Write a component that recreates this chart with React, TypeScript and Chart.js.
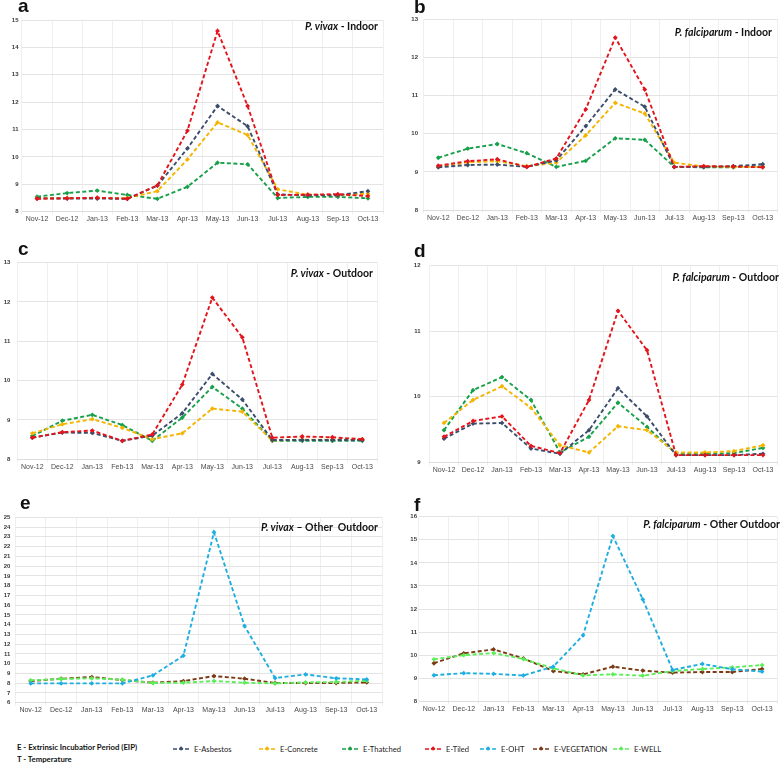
import React, { useEffect, useRef } from 'react';
import { Chart, registerables } from 'chart.js';

Chart.register(...registerables);

// ---- Data ----
const months = ['Nov-12', 'Dec-12', 'Jan-13', 'Feb-13', 'Mar-13', 'Apr-13', 'May-13', 'Jun-13', 'Jul-13', 'Aug-13', 'Sep-13', 'Oct-13'];

const aAsbestos = [8.49, 8.48, 8.48, 8.47, 8.95, 10.31, 11.86, 11.12, 8.63, 8.6, 8.6, 8.75];
const aConcrete = [8.5, 8.5, 8.5, 8.5, 8.75, 9.91, 11.26, 10.8, 8.82, 8.62, 8.6, 8.66];
const aThatched = [8.55, 8.68, 8.77, 8.61, 8.47, 8.91, 9.79, 9.73, 8.5, 8.54, 8.54, 8.49];
const aTiled = [8.47, 8.49, 8.51, 8.47, 8.96, 10.96, 14.6, 11.86, 8.61, 8.62, 8.64, 8.57];

const bAsbestos = [9.12, 9.18, 9.19, 9.13, 9.3, 10.2, 11.16, 10.71, 9.13, 9.13, 9.15, 9.2];
const bConcrete = [9.14, 9.25, 9.28, 9.15, 9.24, 9.96, 10.81, 10.53, 9.24, 9.14, 9.13, 9.13];
const bThatched = [9.37, 9.61, 9.73, 9.49, 9.13, 9.29, 9.88, 9.84, 9.13, 9.12, 9.12, 9.14];
const bTiled = [9.16, 9.28, 9.33, 9.13, 9.35, 10.64, 12.52, 11.16, 9.13, 9.15, 9.14, 9.12];

const cAsbestos = [8.55, 8.68, 8.67, 8.47, 8.6, 9.17, 10.17, 9.52, 8.49, 8.49, 8.49, 8.49];
const cConcrete = [8.66, 8.89, 9.02, 8.8, 8.51, 8.66, 9.29, 9.21, 8.48, 8.5, 8.5, 8.5];
const cThatched = [8.59, 8.98, 9.13, 8.87, 8.47, 9.06, 9.84, 9.29, 8.47, 8.47, 8.47, 8.47];
const cTiled = [8.55, 8.69, 8.73, 8.47, 8.63, 9.9, 12.11, 11.1, 8.55, 8.58, 8.56, 8.51];

const dAsbestos = [9.36, 9.59, 9.6, 9.21, 9.13, 9.49, 10.13, 9.7, 9.11, 9.11, 9.11, 9.13];
const dConcrete = [9.6, 9.95, 10.16, 9.83, 9.26, 9.15, 9.55, 9.49, 9.15, 9.15, 9.17, 9.26];
const dThatched = [9.49, 10.1, 10.3, 9.95, 9.15, 9.39, 9.91, 9.54, 9.13, 9.13, 9.14, 9.22];
const dTiled = [9.39, 9.63, 9.7, 9.25, 9.14, 9.95, 11.31, 10.71, 9.11, 9.11, 9.11, 9.11];

const eOHT = [7.98, 7.98, 7.98, 7.98, 8.8, 10.82, 23.46, 13.86, 8.53, 8.9, 8.5, 8.39];
const eVegetation = [8.22, 8.46, 8.63, 8.32, 8.05, 8.22, 8.73, 8.46, 8.02, 8.02, 8.02, 8.08];
const eWell = [8.29, 8.43, 8.5, 8.36, 8.02, 8.05, 8.22, 8.05, 7.98, 8.08, 8.12, 8.25];

const fOHT = [9.13, 9.22, 9.19, 9.12, 9.5, 10.86, 15.16, 12.42, 9.36, 9.62, 9.39, 9.29];
const fVegetation = [9.65, 10.08, 10.25, 9.86, 9.31, 9.17, 9.5, 9.33, 9.24, 9.27, 9.27, 9.4];
const fWell = [9.82, 10.0, 10.09, 9.83, 9.43, 9.12, 9.17, 9.11, 9.31, 9.4, 9.47, 9.57];

const seriesNames = ['E-Asbestos', 'E-Concrete', 'E-Thatched', 'E-Tiled', 'E-OHT', 'E-VEGETATION', 'E-WELL'];

// ---- Styles ----
const COLORS: Record<string, string> = {
  'E-Asbestos': '#3c4d6c',
  'E-Concrete': '#f4b500',
  'E-Thatched': '#17a04a',
  'E-Tiled': '#e3141b',
  'E-OHT': '#1eaedf',
  'E-VEGETATION': '#7b3a14',
  'E-WELL': '#5cee58',
};
const ORDER: Record<string, number> = {
  'E-Tiled': 0, 'E-Asbestos': 1, 'E-Concrete': 2, 'E-Thatched': 3,
  'E-OHT': 0, 'E-WELL': 1, 'E-VEGETATION': 2,
};

type PanelDef = {
  letter: string;
  letterPos: [number, number];
  titleItalic: string;
  titleRest: string;
  titleRight: number;
  titleCenterY: number;
  plot: { left: number; top: number; right: number; bottom: number };
  canvasLeft: number;
  yMin: number;
  yMax: number;
  yPad: number;
  series: { name: string; data: number[] }[];
};

const panels: PanelDef[] = [
  {
    letter: 'a', letterPos: [18, 12], titleItalic: 'P. vivax', titleRest: ' - Indoor', titleRight: 378, titleCenterY: 27,
    plot: { left: 22, top: 20, right: 383, bottom: 211.7 }, canvasLeft: 0, yMin: 8, yMax: 15, yPad: 3.5,
    series: [
      { name: 'E-Asbestos', data: aAsbestos }, { name: 'E-Concrete', data: aConcrete },
      { name: 'E-Thatched', data: aThatched }, { name: 'E-Tiled', data: aTiled },
    ],
  },
  {
    letter: 'b', letterPos: [414, 13], titleItalic: 'P. falciparum', titleRest: ' - Indoor', titleRight: 772, titleCenterY: 33,
    plot: { left: 423.5, top: 19.3, right: 777.5, bottom: 210 }, canvasLeft: 398, yMin: 8, yMax: 13, yPad: 5.5,
    series: [
      { name: 'E-Asbestos', data: bAsbestos }, { name: 'E-Concrete', data: bConcrete },
      { name: 'E-Thatched', data: bThatched }, { name: 'E-Tiled', data: bTiled },
    ],
  },
  {
    letter: 'c', letterPos: [18, 255], titleItalic: 'P. vivax', titleRest: ' - Outdoor', titleRight: 373, titleCenterY: 274,
    plot: { left: 17.3, top: 262.3, right: 377.3, bottom: 459.3 }, canvasLeft: 0, yMin: 8, yMax: 13, yPad: 7,
    series: [
      { name: 'E-Asbestos', data: cAsbestos }, { name: 'E-Concrete', data: cConcrete },
      { name: 'E-Thatched', data: cThatched }, { name: 'E-Tiled', data: cTiled },
    ],
  },
  {
    letter: 'd', letterPos: [414, 257], titleItalic: 'P. falciparum', titleRest: ' - Outdoor', titleRight: 779, titleCenterY: 278,
    plot: { left: 429.5, top: 263.3, right: 777.5, bottom: 462.3 }, canvasLeft: 398, yMin: 9, yMax: 12, yPad: 9,
    series: [
      { name: 'E-Asbestos', data: dAsbestos }, { name: 'E-Concrete', data: dConcrete },
      { name: 'E-Thatched', data: dThatched }, { name: 'E-Tiled', data: dTiled },
    ],
  },
  {
    letter: 'e', letterPos: [20, 509], titleItalic: 'P. vivax', titleRest: ' \u2013 Other  Outdoor', titleRight: 378, titleCenterY: 528,
    plot: { left: 15.4, top: 517.3, right: 382, bottom: 702.7 }, canvasLeft: 0, yMin: 6, yMax: 25, yPad: 5,
    series: [
      { name: 'E-OHT', data: eOHT }, { name: 'E-VEGETATION', data: eVegetation }, { name: 'E-WELL', data: eWell },
    ],
  },
  {
    letter: 'f', letterPos: [414, 511], titleItalic: 'P. falciparum', titleRest: ' - Other Outdoor', titleRight: 780, titleCenterY: 525,
    plot: { left: 419, top: 516.7, right: 777, bottom: 701.3 }, canvasLeft: 398, yMin: 8, yMax: 16, yPad: 2,
    series: [
      { name: 'E-OHT', data: fOHT }, { name: 'E-VEGETATION', data: fVegetation }, { name: 'E-WELL', data: fWell },
    ],
  },
];

const TICK_FONT = 'Liberation Sans, Arial, sans-serif';

function Panel({ p }: { p: PanelDef }) {
  const ref = useRef<HTMLCanvasElement | null>(null);
  const canvasTop = Math.round(p.plot.top - 10);
  const canvasRight = Math.min(784, Math.round(p.plot.right + 5));
  const canvasBottom = Math.round(p.plot.bottom + 18);
  const w = canvasRight - p.canvasLeft;
  const h = canvasBottom - canvasTop;

  useEffect(() => {
    if (!ref.current) return;
    const yw = p.plot.left - p.canvasLeft;
    const xh = canvasBottom - p.plot.bottom;
    const chart = new Chart(ref.current, {
      type: 'line',
      data: {
        labels: months,
        datasets: p.series.map((s) => ({
          label: s.name,
          data: s.data,
          borderColor: COLORS[s.name],
          backgroundColor: COLORS[s.name],
          pointBackgroundColor: COLORS[s.name],
          pointBorderColor: COLORS[s.name],
          borderDash: [4, 2.5],
          borderWidth: 1.9,
          pointStyle: 'rectRot',
          pointRadius: 2.4,
          pointBorderWidth: 0,
          tension: 0,
          fill: false,
          order: ORDER[s.name],
        })),
      },
      options: {
        responsive: false,
        animation: false,
        devicePixelRatio: 1,
        layout: {
          padding: { top: p.plot.top - canvasTop, right: canvasRight - p.plot.right, left: 0, bottom: 0 },
        },
        plugins: { legend: { display: false }, tooltip: { enabled: false }, title: { display: false } },
        scales: {
          x: {
            offset: true,
            grid: { offset: true, color: '#efefef', lineWidth: 1, drawTicks: true, tickLength: 3 },
            border: { color: '#dcdcdc' },
            ticks: { font: { family: TICK_FONT, size: 7 }, color: '#4a4a4a', padding: 0.5, maxRotation: 0, autoSkip: false },
            afterFit: (s: any) => { s.height = xh; },
          },
          y: {
            min: p.yMin,
            max: p.yMax,
            ticks: { stepSize: 1, autoSkip: false, font: { family: TICK_FONT, size: 6, weight: 'bold' }, color: '#3a3a3a', padding: p.yPad },
            grid: { color: '#e4e4e4', lineWidth: 1, drawTicks: false },
            border: { display: false },
            afterFit: (s: any) => { s.width = yw; },
          },
        },
      },
    } as any);
    return () => chart.destroy();
  }, []);

  return (
    <canvas
      ref={ref}
      width={w}
      height={h}
      style={{ position: 'absolute', left: p.canvasLeft, top: canvasTop, width: w, height: h }}
    />
  );
}

const legendItems = [
  { name: seriesNames[0], x: 173 },
  { name: seriesNames[1], x: 259 },
  { name: seriesNames[2], x: 342 },
  { name: seriesNames[3], x: 425 },
  { name: seriesNames[4], x: 480 },
  { name: seriesNames[5], x: 533 },
  { name: seriesNames[6], x: 613 },
];

export default function App() {
  return (
    <div style={{ position: 'absolute', left: 0, top: 0, width: 784, height: 764, background: '#fff', overflow: 'hidden' }}>
      {panels.map((p) => (
        <React.Fragment key={p.letter}>
          <Panel p={p} />
          <div
            style={{
              position: 'absolute', left: p.letterPos[0], top: p.letterPos[1] - 16,
              font: 'bold 19px "Liberation Sans", Arial, sans-serif', lineHeight: '19px', color: '#111',
            }}
          >
            {p.letter}
          </div>
          <div
            style={{
              position: 'absolute', right: 784 - p.titleRight, top: p.titleCenterY - 6,
              font: 'bold 10.5px Lato, "Open Sans", sans-serif', lineHeight: '10.5px', color: '#111', whiteSpace: 'pre',
            }}
          >
            <i>{p.titleItalic}</i>{p.titleRest}
          </div>
        </React.Fragment>
      ))}
      <div
        style={{
          position: 'absolute', left: 17, top: 742, font: 'bold 8px Lato, sans-serif', lineHeight: '11.5px',
          color: '#111', whiteSpace: 'pre', transform: 'scaleX(0.97)', transformOrigin: 'left top',
        }}
      >
        <div>E - Extrinsic Incubatior Period (EIP)</div>
        <div>T - Temperature</div>
      </div>
      {legendItems.map((it) => (
        <div key={it.name} style={{ position: 'absolute', left: it.x, top: 744, height: 10, display: 'flex', alignItems: 'center', whiteSpace: 'pre' }}>
          <svg width={17} height={6} style={{ display: 'block' }}>
            <line x1={0} y1={3} x2={17} y2={3} stroke={COLORS[it.name]} strokeWidth={1.6} strokeDasharray="4 2" />
            <rect x={6.5} y={1} width={3.2} height={3.2} fill={COLORS[it.name]} transform="rotate(45 8.1 2.6)" />
          </svg>
          <span style={{ marginLeft: 4, font: '8px Lato, sans-serif', color: '#222', display: 'inline-block', transform: 'scaleX(0.95)', transformOrigin: 'left center' }}>
            {it.name}
          </span>
        </div>
      ))}
    </div>
  );
}
